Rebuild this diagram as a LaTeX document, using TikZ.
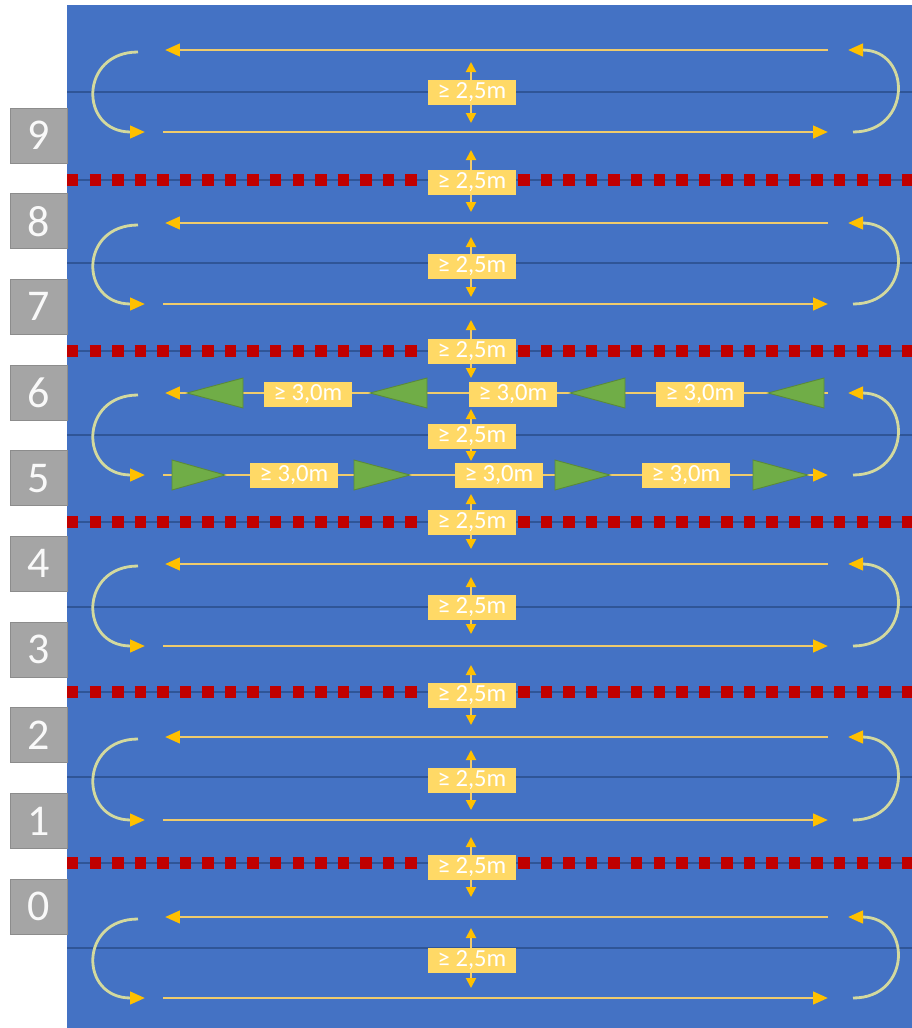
\documentclass[tikz,border=0pt]{standalone}
\usepackage{fontspec}
\setmainfont{Carlito}
\usepackage{xcolor}
\usepackage{tikz}
\usetikzlibrary{arrows.meta}

\definecolor{poolblue}{HTML}{4472C4}
\definecolor{lineblue}{HTML}{2F5597}
\definecolor{ropered}{HTML}{C00000}
\definecolor{markyellow}{HTML}{FFC000}
\definecolor{laneyellow}{HTML}{EFCB6C}
\definecolor{turnpale}{HTML}{D3D99E}
\definecolor{boxyellow}{HTML}{FFD966}
\definecolor{numgray}{HTML}{A5A5A5}
\definecolor{swimgreen}{HTML}{70AD47}

\begin{document}
\begin{tikzpicture}[x=0.02cm, y=-0.02cm,
    lane/.style={draw=laneyellow, line width=1.6pt, -{Triangle[length=0.3cm, width=0.25cm, color=markyellow]}},
    uturn/.style={draw=turnpale, line width=1.6pt, -{Triangle[length=0.3cm, width=0.25cm, color=markyellow]}},
    apart/.style={draw=laneyellow, line width=1.1pt, {Triangle[length=0.2cm, width=0.2cm, color=markyellow]}-{Triangle[length=0.2cm, width=0.2cm, color=markyellow]}},
    rope/.style={draw=ropered, line width=6.8pt, dash pattern=on 6.52pt off 6.32pt},
    midline/.style={draw=lineblue, line width=1pt},
    gapbox/.style={fill=boxyellow, minimum width=1.76cm, minimum height=0.5cm, inner sep=0pt, text=white, font=\fontsize{14}{14}\selectfont},
    numbox/.style={fill=numgray, draw=numgray!85!black, line width=0.4pt, minimum width=1.14cm, minimum height=1.1cm, inner sep=0pt, text=white!95!gray, font=\fontsize{25}{25}\selectfont},
    swimmer/.style={fill=swimgreen, draw=swimgreen!80!black, line width=0.5pt}]
  \useasboundingbox (0,0) rectangle (912,1028);

  % Pool
  \fill[poolblue] (67,5) rectangle (912,1028);

  % Lane middle lines
  \draw[midline] (67,92) -- (912,92);
  \draw[midline] (67,263) -- (912,263);
  \draw[midline] (67,435) -- (912,435);
  \draw[midline] (67,607) -- (912,607);
  \draw[midline] (67,777) -- (912,777);
  \draw[midline] (67,948) -- (912,948);

  % Lane ropes
  \draw[lineblue, line width=1pt] (67,180) -- (912,180);
  \draw[rope] (67,180) -- (912,180);
  \draw[lineblue, line width=1pt] (67,351) -- (912,351);
  \draw[rope] (67,351) -- (912,351);
  \draw[lineblue, line width=1pt] (67,522) -- (912,522);
  \draw[rope] (67,522) -- (912,522);
  \draw[lineblue, line width=1pt] (67,692) -- (912,692);
  \draw[rope] (67,692) -- (912,692);
  \draw[lineblue, line width=1pt] (67,863) -- (912,863);
  \draw[rope] (67,863) -- (912,863);

  % Lanes 9/8
  \draw[lane] (828,50) -- (165,50);
  \draw[lane] (163,132) -- (828,132);
  \draw[uturn] (138,52) .. controls (79,52) and (79,132) .. (145,132);
  \draw[uturn] (853,132) .. controls (912,132) and (912,50) .. (848,50);

  % Lanes 8/7
  \draw[lane] (828,223) -- (165,223);
  \draw[lane] (163,304) -- (828,304);
  \draw[uturn] (138,225) .. controls (79,225) and (79,304) .. (145,304);
  \draw[uturn] (853,304) .. controls (912,304) and (912,223) .. (848,223);

  % Lanes 6/5 (one-way traffic)
  \draw[lane] (828,393) -- (165,393);
  \draw[lane] (163,475) -- (828,475);
  \draw[uturn] (138,395) .. controls (79,395) and (79,475) .. (145,475);
  \draw[uturn] (853,475) .. controls (912,475) and (912,393) .. (848,393);

  \fill[swimmer] (187,393) -- (243,378) -- (243,408) -- cycle;
  \fill[swimmer] (370,393) -- (427,378) -- (427,408) -- cycle;
  \fill[swimmer] (570,393) -- (625,378) -- (625,408) -- cycle;
  \fill[swimmer] (768,393) -- (824,378) -- (824,408) -- cycle;

  \fill[swimmer] (225,475) -- (172,460) -- (172,490) -- cycle;
  \fill[swimmer] (410,475) -- (354,460) -- (354,490) -- cycle;
  \fill[swimmer] (610,475) -- (555,460) -- (555,490) -- cycle;
  \fill[swimmer] (808,475) -- (753,460) -- (753,490) -- cycle;

  % Lanes 4/3
  \draw[lane] (828,564) -- (165,564);
  \draw[lane] (163,646) -- (828,646);
  \draw[uturn] (138,566) .. controls (79,566) and (79,646) .. (145,646);
  \draw[uturn] (853,646) .. controls (912,646) and (912,564) .. (848,564);

  % Lanes 2/1
  \draw[lane] (828,737) -- (165,737);
  \draw[lane] (163,820) -- (828,820);
  \draw[uturn] (138,739) .. controls (79,739) and (79,820) .. (145,820);
  \draw[uturn] (853,820) .. controls (912,820) and (912,737) .. (848,737);

  % Lane 0
  \draw[lane] (828,917) -- (165,917);
  \draw[lane] (163,998) -- (828,998);
  \draw[uturn] (138,919) .. controls (79,919) and (79,998) .. (145,998);
  \draw[uturn] (853,998) .. controls (912,998) and (912,917) .. (848,917);

  % Distances between swimmers
  \draw[apart] (471,62) -- (471,123);
  \draw[apart] (471,150) -- (471,212);
  \draw[apart] (471,237) -- (471,297);
  \draw[apart] (471,320) -- (471,378);
  \draw[apart] (471,409) -- (471,461);
  \draw[apart] (471,494) -- (471,549);
  \draw[apart] (471,577) -- (471,634);
  \draw[apart] (471,665) -- (471,725);
  \draw[apart] (471,750) -- (471,810);
  \draw[apart] (471,837) -- (471,897);
  \draw[apart] (471,928) -- (471,988);

  \node[gapbox] (s0) at (472,92) {≥ 2,5m};
  \node[gapbox] (r1) at (472,182) {≥ 2,5m};
  \node[gapbox] (s1) at (472,266) {≥ 2,5m};
  \node[gapbox] (r2) at (472,351) {≥ 2,5m};
  \node[gapbox] (s2) at (472,436) {≥ 2,5m};
  \node[gapbox] (r3) at (472,522) {≥ 2,5m};
  \node[gapbox] (s3) at (472,607) {≥ 2,5m};
  \node[gapbox] (r4) at (472,695) {≥ 2,5m};
  \node[gapbox] (s4) at (472,780) {≥ 2,5m};
  \node[gapbox] (r5) at (472,867) {≥ 2,5m};
  \node[gapbox] (s5) at (472,960) {≥ 2,5m};

  \node[gapbox] (t1) at (308,394) {≥ 3,0m};
  \node[gapbox] (t2) at (513,394) {≥ 3,0m};
  \node[gapbox] (t3) at (700,394) {≥ 3,0m};
  \node[gapbox] (b1) at (294,475) {≥ 3,0m};
  \node[gapbox] (b2) at (499,475) {≥ 3,0m};
  \node[gapbox] (b3) at (686,475) {≥ 3,0m};

  % Lane numbers
  \node[numbox] (n9) at (38.5,135.5) {9};
  \node[numbox] (n8) at (38.5,221.2) {8};
  \node[numbox] (n7) at (38.5,306.8) {7};
  \node[numbox] (n6) at (38.5,392.5) {6};
  \node[numbox] (n5) at (38.5,478.2) {5};
  \node[numbox] (n4) at (38.5,563.8) {4};
  \node[numbox] (n3) at (38.5,649.5) {3};
  \node[numbox] (n2) at (38.5,735.2) {2};
  \node[numbox] (n1) at (38.5,820.9) {1};
  \node[numbox] (n0) at (38.5,906.5) {0};
\end{tikzpicture}
\end{document}
